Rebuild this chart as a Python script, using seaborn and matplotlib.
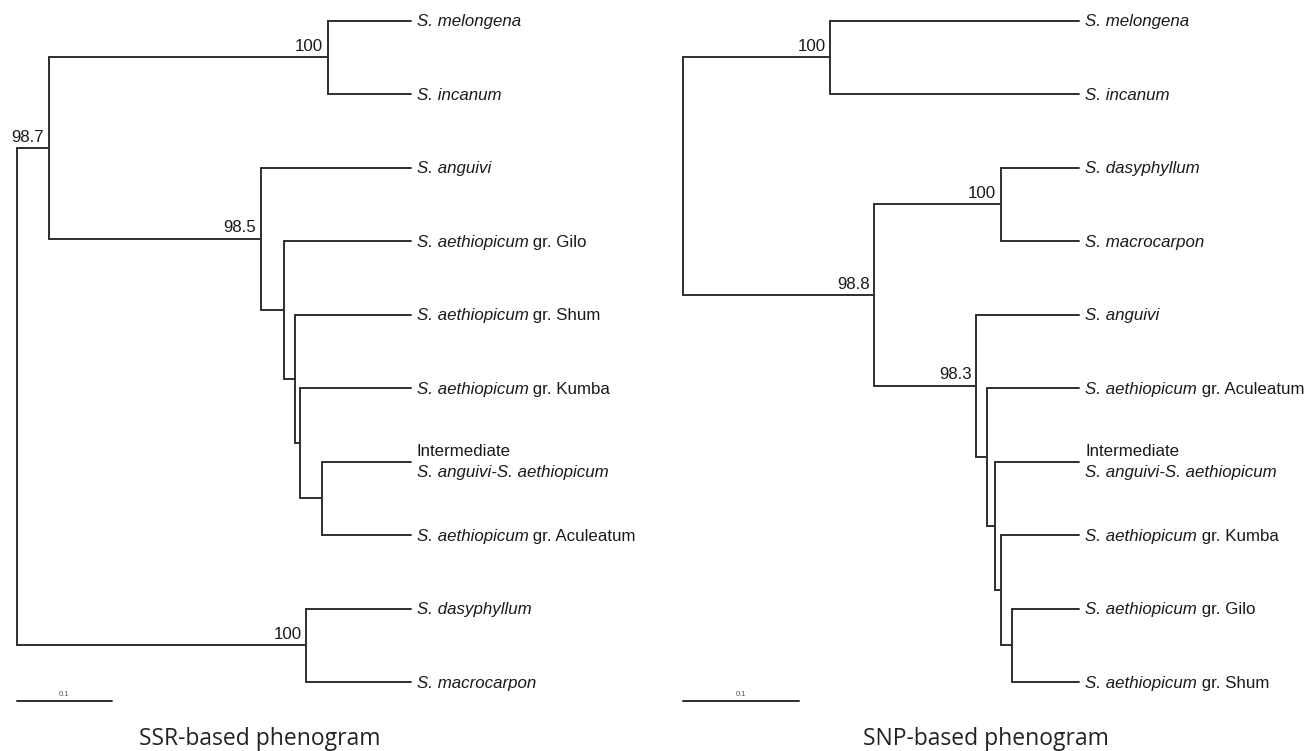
import matplotlib
matplotlib.use("Agg")
import matplotlib.pyplot as plt
import numpy as np
import pandas as pd
import seaborn as sns

sns.set_style("white")
plt.rcParams['font.family'] = ['Liberation Sans', 'DejaVu Sans']

# ---------------- data ----------------
ssr_leaves = ["S. melongena", "S. incanum", "S. anguivi",
              "S. aethiopicum gr. Gilo", "S. aethiopicum gr. Shum",
              "S. aethiopicum gr. Kumba",
              "Intermediate|S. anguivi-S. aethiopicum",
              "S. aethiopicum gr. Aculeatum",
              "S. dasyphyllum", "S. macrocarpon"]
ssr_leaf_height = 0.417
ssr_node_names = ["G", "F", "E", "D", "C", "B", "A", "H", "root"]
ssr_node_left = ["Intermediate|S. anguivi-S. aethiopicum", "S. aethiopicum gr. Kumba",
                 "S. aethiopicum gr. Shum", "S. aethiopicum gr. Gilo", "S. anguivi",
                 "S. melongena", "B", "S. dasyphyllum", "A"]
ssr_node_right = ["S. aethiopicum gr. Aculeatum", "G", "F", "E", "D",
                  "S. incanum", "C", "S. macrocarpon", "H"]
ssr_node_heights = [0.323, 0.300, 0.294, 0.283, 0.258, 0.329, 0.0334, 0.306, 0.0]
ssr_node_support = [None, None, None, None, 98.5, 100, 98.7, 100, None]

snp_leaves = ["S. melongena", "S. incanum", "S. dasyphyllum", "S. macrocarpon",
              "S. anguivi", "S. aethiopicum gr. Aculeatum",
              "Intermediate|S. anguivi-S. aethiopicum",
              "S. aethiopicum gr. Kumba", "S. aethiopicum gr. Gilo",
              "S. aethiopicum gr. Shum"]
snp_leaf_height = 0.3417
snp_node_names = ["J", "I", "G", "F", "E", "D", "C", "B", "root"]
snp_node_left = ["S. aethiopicum gr. Gilo", "S. aethiopicum gr. Kumba",
                 "Intermediate|S. anguivi-S. aethiopicum", "S. aethiopicum gr. Aculeatum",
                 "S. anguivi", "S. dasyphyllum", "D", "S. melongena", "B"]
snp_node_right = ["S. aethiopicum gr. Shum", "J", "I", "G", "F",
                  "S. macrocarpon", "E", "S. incanum", "C"]
snp_node_heights = [0.284, 0.274, 0.269, 0.262, 0.253, 0.274, 0.165, 0.127, 0.0]
snp_node_support = [None, None, None, None, 98.3, 100, 98.8, 100, None]

scale_value = 0.1
titles = ["SSR-based phenogram", "SNP-based phenogram"]

# ---------------- helpers ----------------
LINE = "#2e2e2e"
TXT = "#1a1a1a"
FS = 12.2


def build(leaves, leaf_h, names, lefts, rights, heights):
    pos = {lf: (leaf_h, i) for i, lf in enumerate(leaves)}
    rows = []
    seg = 0
    for nm, l, r, h in zip(names, lefts, rights, heights):
        yl, yr = pos[l][1], pos[r][1]
        y = (yl + yr) / 2
        pos[nm] = (h, y)
        rows += [(seg, h, yl), (seg, h, yr)]
        seg += 1
        for c in (l, r):
            rows += [(seg, h, pos[c][1]), (seg, pos[c][0], pos[c][1])]
            seg += 1
    return pd.DataFrame(rows, columns=["seg", "x", "y"]), pos


def draw_tree(ax, leaves, leaf_h, names, lefts, rights, heights, support):
    df, pos = build(leaves, leaf_h, names, lefts, rights, heights)
    sns.lineplot(data=df, x="x", y="y", units="seg", estimator=None, sort=False,
                 color=LINE, linewidth=1.4, ax=ax, legend=False)
    # leaf labels
    for lf in leaves:
        x, y = pos[lf]
        if "|" in lf:
            top, bot = lf.split("|")
            ax.annotate(top, xy=(x, y), xytext=(4.3, 4.1), textcoords="offset points",
                        va="baseline", ha="left", fontsize=FS, color=TXT)
            ax.annotate(bot, xy=(x, y), xytext=(4.3, -11.0), textcoords="offset points",
                        va="baseline", ha="left", fontsize=FS, color=TXT, style="italic")
        elif " gr. " in lf:
            it, rest = lf.split(" gr. ")
            t1 = ax.annotate(it, xy=(x, y), xytext=(4.3, -4.2), textcoords="offset points",
                             va="baseline", ha="left", fontsize=FS, color=TXT, style="italic")
            ax.annotate(" gr. " + rest, xy=(1, 0), xycoords=t1, va="bottom", ha="left",
                        fontsize=FS, color=TXT)
        else:
            ax.annotate(lf, xy=(x, y), xytext=(4.3, -4.2), textcoords="offset points",
                        va="baseline", ha="left", fontsize=FS, color=TXT, style="italic")
    # support values
    for nm, s in zip(names, support):
        if s is None:
            continue
        x, y = pos[nm]
        ax.annotate(f"{s:g}", xy=(x, y), xytext=(-3.2, 4.6), textcoords="offset points",
                    va="baseline", ha="right", fontsize=FS, color=TXT)
    # scale bar
    sb = pd.DataFrame({"x": [0.0, scale_value], "y": [9.26, 9.26]})
    sns.lineplot(data=sb, x="x", y="y", estimator=None, sort=False, color=LINE,
                 linewidth=1.4, ax=ax, legend=False)
    ax.text(scale_value / 2, 9.17, f"{scale_value:g}", ha="center", va="center",
            fontsize=5.5, color="#555555")
    ax.axis("off")


# ---------------- figure ----------------
W, H = 1306, 751
fig = plt.figure(figsize=(W / 100, H / 100), dpi=100)

ylim = ((H - 20.5) / 73.5, -20.5 / 73.5)

axL = fig.add_axes([0, 0, 656 / W, 1])
draw_tree(axL, ssr_leaves, ssr_leaf_height, ssr_node_names, ssr_node_left,
          ssr_node_right, ssr_node_heights, ssr_node_support)
axL.set_xlim(-17.3 / 943, (656 - 17.3) / 943)
axL.set_ylim(*ylim)

axR = fig.add_axes([656 / W, 0, 650 / W, 1])
draw_tree(axR, snp_leaves, snp_leaf_height, snp_node_names, snp_node_left,
          snp_node_right, snp_node_heights, snp_node_support)
axR.set_xlim(-26.7 / 1160, (650 - 26.7) / 1160)
axR.set_ylim(*ylim)

fig.text(260 / W, 1 - 745 / H, titles[0], family=["Open Sans", "DejaVu Sans"],
         fontsize=16.5, ha="center", va="baseline", color="#222222")
fig.text(986 / W, 1 - 745 / H, titles[1], family=["Open Sans", "DejaVu Sans"],
         fontsize=16.5, ha="center", va="baseline", color="#222222")

fig.savefig("out.png", dpi=100)
